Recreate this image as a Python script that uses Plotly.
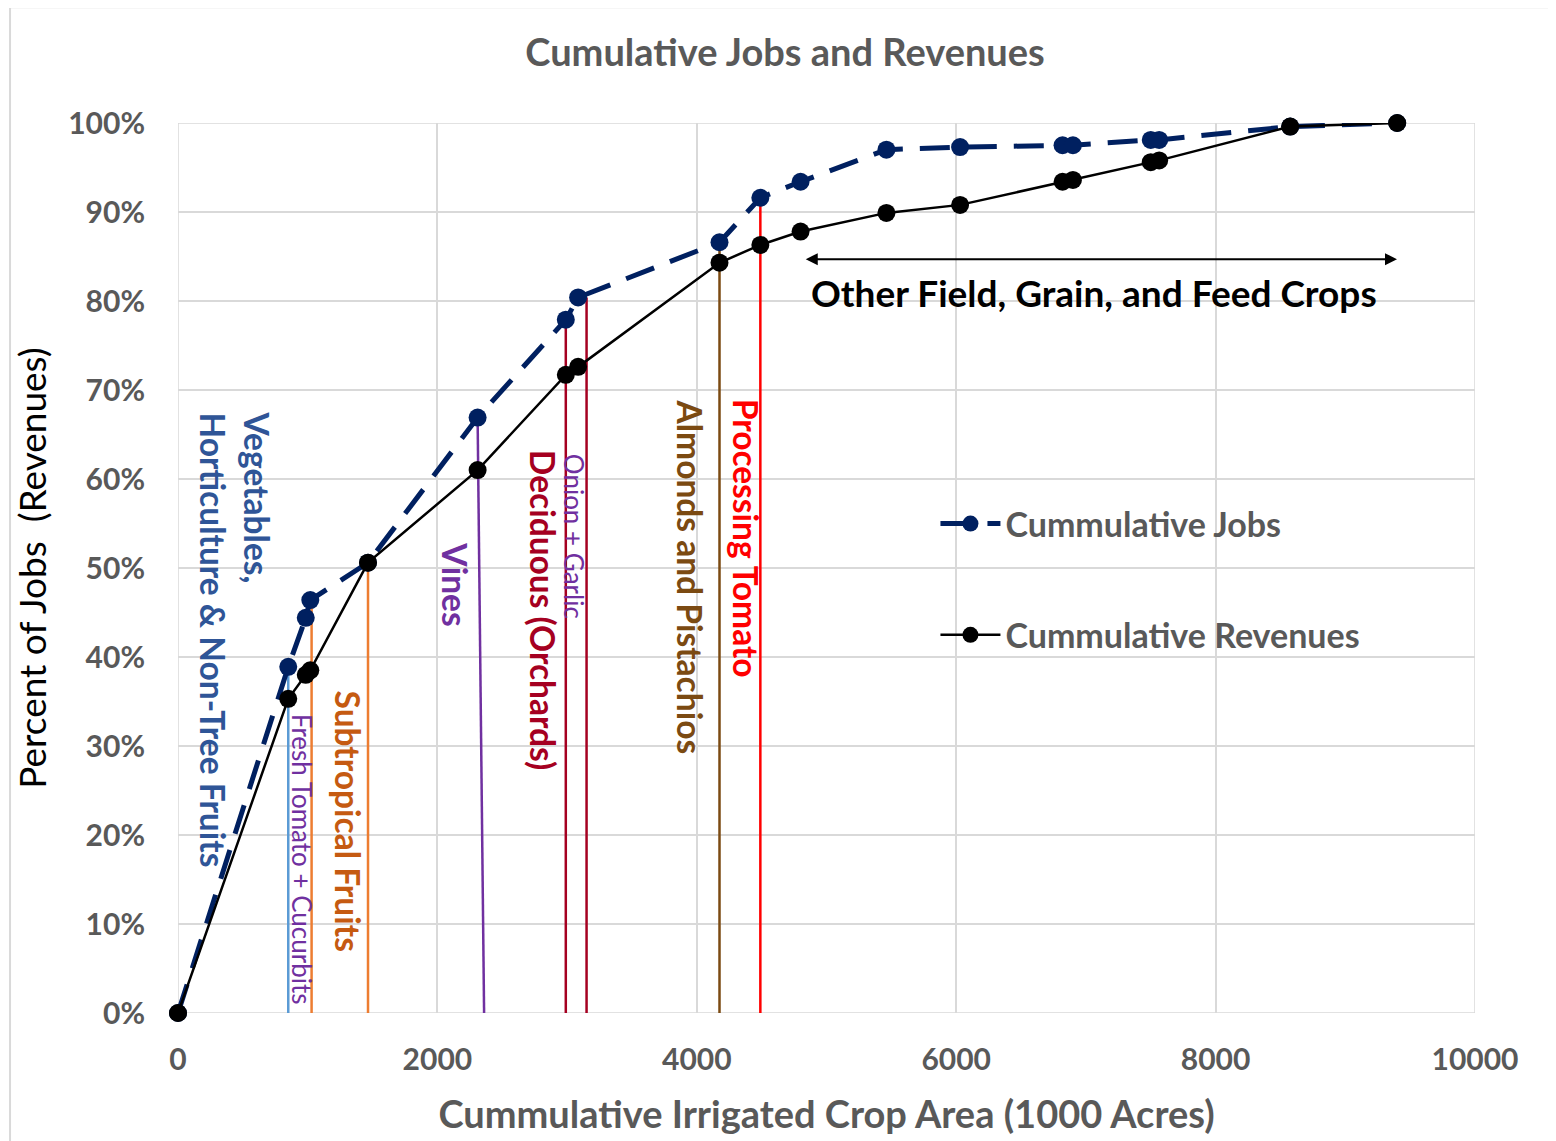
import plotly.graph_objects as go

# cumulative irrigated crop area (1000 acres)
area = [0, 850, 985, 1020, 1465, 2310, 2990, 3085, 4175, 4490, 4800,
        5462, 6030, 6820, 6900, 7500, 7565, 8575, 9400]
jobs = [0, 38.9, 44.4, 46.4, 50.6, 66.9, 77.9, 80.4, 86.6, 91.6, 93.4,
        97.0, 97.3, 97.5, 97.5, 98.1, 98.1, 99.6, 100]
revenues = [0, 35.3, 38.0, 38.5, 50.6, 61.0, 71.7, 72.6, 84.3, 86.3, 87.8,
            89.9, 90.8, 93.4, 93.6, 95.6, 95.8, 99.6, 100]

x_ticks = [0, 2000, 4000, 6000, 8000, 10000]
y_ticks = [0, 10, 20, 30, 40, 50, 60, 70, 80, 90, 100]

# crop group dividers: x at bottom, x at top, top value, colour
div_bottom = [850, 1030, 1465, 2360, 2990, 3150, 4175, 4490]
div_top_x = [850, 1030, 1465, 2310, 2990, 3150, 4175, 4490]
div_top_y = [38.9, 46.4, 50.6, 66.9, 77.9, 80.4, 86.6, 91.6]
div_colors = ["#5B9BD5", "#ED7D31", "#ED7D31", "#7030A0",
              "#A50021", "#A50021", "#7B4A12", "#FF0000"]

# rotated crop labels
labels = ["Vegetables,<br>Horticulture & Non-Tree Fruits",
          "Fresh Tomato + Cucurbits", "Subtropical Fruits", "Vines",
          "Deciduous (Orchards)", "Onion + Garlic",
          "Almonds and Pistachios", "Processing Tomato"]
label_x = [440, 955, 1311, 2136, 2814, 3053, 3948, 4379]
label_y = [67.8, 33.8, 36.5, 53.1, 63.5, 63.0, 69.2, 69.2]
label_colors = ["#2F5597", "#7030A0", "#C55A11", "#7030A0",
                "#A50021", "#7030A0", "#7B4A12", "#FF0000"]
label_bold = [True, False, True, True, True, False, True, True]

other_span = [4840, 9410]
other_y = 84.7

FONT = "Lato"
GRAY = "#595959"

fig = go.Figure()

for xb, xt, yt, c in zip(div_bottom, div_top_x, div_top_y, div_colors):
    fig.add_trace(go.Scatter(x=[xb, xt], y=[0, yt], mode="lines",
                             line=dict(color=c, width=2.5),
                             showlegend=False, hoverinfo="skip",
                             cliponaxis=False))

fig.add_trace(go.Scatter(
    x=area, y=jobs, mode="lines+markers", name="<b>Cummulative Jobs</b>",
    line=dict(color="#002060", width=5, dash="30px,17px"),
    marker=dict(size=18, color="#002060"),
    legendgroup="a", cliponaxis=False
))
fig.add_trace(go.Scatter(
    x=area, y=revenues, mode="lines+markers",
    name="<b>Cummulative Revenues</b>",
    line=dict(color="black", width=2.5),
    marker=dict(size=18, color="black"),
    legendgroup="b", cliponaxis=False
))

for t, x, y, c, b in zip(labels, label_x, label_y, label_colors, label_bold):
    fig.add_annotation(
        x=x, y=y, text=f"<b>{t}</b>" if b else t, textangle=90,
        showarrow=False, xanchor="center", yanchor="top", align="left",
        font=dict(family=FONT, size=33.5 if b else 26, color=c)
    )

fig.add_annotation(
    x=other_span[0], y=other_y, ax=other_span[1], ay=other_y,
    xref="x", yref="y", axref="x", ayref="y", text="",
    showarrow=True, arrowhead=2, arrowside="end+start",
    arrowsize=1.2, arrowwidth=2, arrowcolor="black"
)
fig.add_annotation(
    x=sum(other_span) / 2 - 60, y=80.9, yanchor="middle",
    text="<b>Other Field, Grain, and Feed Crops</b>", showarrow=False,
    font=dict(family=FONT, size=37, color="black")
)

fig.add_shape(type="rect", xref="paper", yref="paper",
              x0=-0.1295, x1=1.0594, y0=-0.145, y1=1.130,
              line=dict(color="#D9D9D9", width=2))

fig.update_layout(
    width=1556, height=1141,
    margin=dict(l=170, r=89, t=115, b=136),
    paper_bgcolor="white", plot_bgcolor="white",
    font=dict(family=FONT, color=GRAY),
    title=dict(text="<b>Cumulative Jobs and Revenues</b>", x=0.4994,
               xanchor="center", y=0.9606, yanchor="middle",
               font=dict(size=38, color=GRAY, family=FONT)),
    legend=dict(x=0.584, y=0.582, xanchor="left", yanchor="top",
                bgcolor="rgba(0,0,0,0)", tracegroupgap=64,
                font=dict(size=34, color=GRAY, family=FONT),
                itemwidth=60),
    showlegend=True,
)
fig.update_xaxes(
    range=[0, 10000], showgrid=True, gridcolor="#D9D9D9",
    gridwidth=1.5, zeroline=False, showline=False,
    tickvals=x_ticks, ticktext=[f"<b>{v}</b>" for v in x_ticks],
    tickfont=dict(size=30, color=GRAY, family=FONT), ticks="",
    ticklabelstandoff=26,
    title=dict(text="<b>Cummulative Irrigated Crop Area (1000 Acres)</b>",
               font=dict(size=38, color=GRAY, family=FONT), standoff=26)
)
fig.update_yaxes(
    range=[0, 100], showgrid=True, gridcolor="#D9D9D9",
    gridwidth=1.5, zeroline=False, showline=False,
    tickvals=y_ticks, ticktext=[f"<b>{v}%</b>" for v in y_ticks],
    tickfont=dict(size=30, color=GRAY, family=FONT), ticks="",
    ticklabelstandoff=32,
    title=dict(text="Percent of Jobs  (Revenues)",
               font=dict(size=37, color="black", family=FONT), standoff=10)
)
fig.add_shape(type="rect", xref="x", yref="y", x0=0, x1=10000, y0=0, y1=100,
              line=dict(color="#D9D9D9", width=1.5), layer="below")

fig.write_html("out.html")
